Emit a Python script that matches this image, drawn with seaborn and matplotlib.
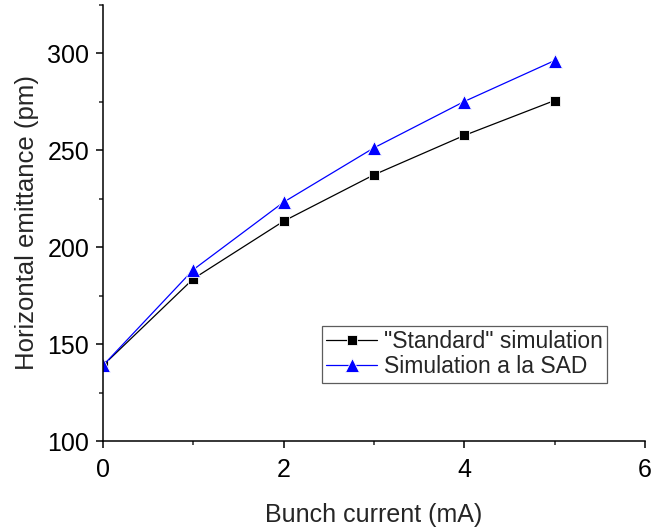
import matplotlib
matplotlib.use("Agg")
from matplotlib import pyplot as plt
from matplotlib.ticker import MultipleLocator
import seaborn as sns
import pandas as pd

# bunch current (mA)
corriente = [0, 1, 2, 3, 4, 5]
# emitancia horizontal (pm)
estandar = [139, 183.7, 213.4, 237.3, 257.6, 275.6]
sad = [139, 188.4, 223.2, 251.2, 275.1, 296.2]

nombres = ['"Standard" simulation', "Simulation a la SAD"]

df = pd.DataFrame({
    "x": corriente * 2,
    "y": estandar + sad,
    "serie": [nombres[0]] * len(corriente) + [nombres[1]] * len(corriente),
})

sns.set_style("ticks")
plt.rcParams["font.family"] = ["Liberation Sans", "DejaVu Sans"]

fig = plt.figure(figsize=(6.52, 5.27), dpi=100)
ax = fig.add_axes([0.158, 0.163, 0.831, 0.828])

sns.lineplot(data=df[df.serie == nombres[0]], x="x", y="y", color="black",
             marker="s", markersize=7, linewidth=0.9, markeredgewidth=0.6,
             label=nombres[0], ax=ax)
sns.lineplot(data=df[df.serie == nombres[1]], x="x", y="y", color="#0000ff",
             marker="^", markersize=9.5, linewidth=0.9, markeredgewidth=0.6,
             label=nombres[1], ax=ax)

ax.set_xlim(0, 6)
ax.set_ylim(100, 325)
ax.xaxis.set_major_locator(MultipleLocator(2))
ax.xaxis.set_minor_locator(MultipleLocator(1))
ax.yaxis.set_major_locator(MultipleLocator(50))
ax.yaxis.set_minor_locator(MultipleLocator(25))
ax.tick_params(which="major", direction="out", length=5, width=1.1, labelsize=18,
               colors="black", pad=5)
ax.tick_params(axis="x", which="major", pad=7)
ax.tick_params(which="minor", direction="out", length=3, width=1.1)
for lado in ["left", "bottom"]:
    ax.spines[lado].set_linewidth(1.1)
    ax.spines[lado].set_color("black")
sns.despine(ax=ax)

ax.set_xlabel("Bunch current (mA)", fontsize=18, labelpad=15)
ax.set_ylabel("Horizontal emittance (pm)", fontsize=18.5, labelpad=6)

leg = ax.legend(loc="lower left", bbox_to_anchor=(0.404, 0.133), fontsize=16.5,
                frameon=True, fancybox=False, handlelength=2.2, handletextpad=0.3,
                borderpad=0.2, labelspacing=0.1, borderaxespad=0)
leg.get_frame().set_edgecolor("#333333")
leg.get_frame().set_linewidth(0.9)

fig.savefig("out.png", dpi=100)
